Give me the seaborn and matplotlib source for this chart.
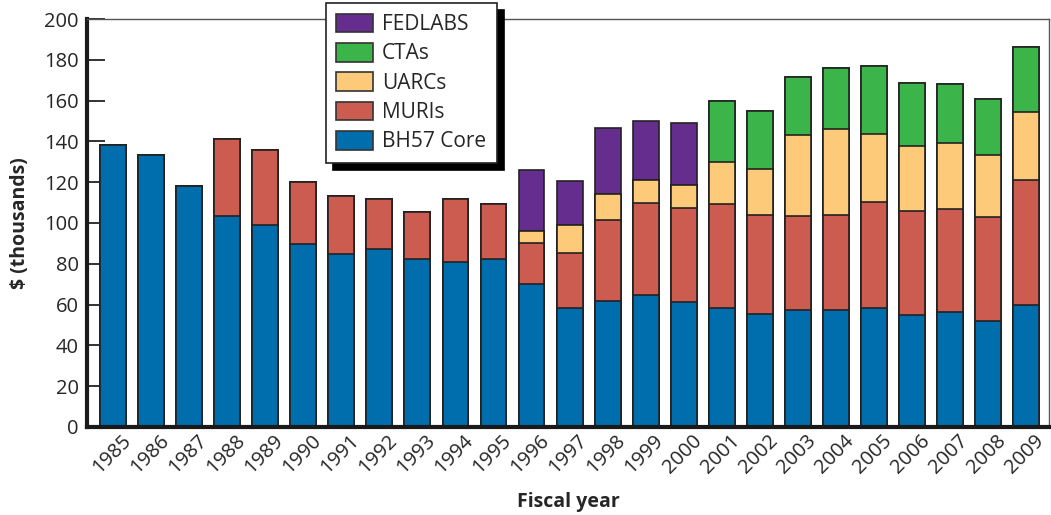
import numpy as np
import pandas as pd
import matplotlib.pyplot as plt
import seaborn as sns
from matplotlib.patches import Patch
from matplotlib.transforms import ScaledTranslation

sns.set_theme(style="ticks")
plt.rcParams['font.family'] = ['Open Sans', 'DejaVu Sans']

years = [str(y) for y in range(1985, 2010)]
bh57_core = [138, 133.5, 118, 103.3, 99, 89.8, 84.7, 87.3, 82.3, 80.8, 82.3, 70.1, 58.5,
             61.9, 64.9, 61.2, 58.1, 55.2, 57.1, 57.5, 58.1, 55, 56.5, 51.7, 59.6]
muris = [0, 0, 0, 38.1, 36.8, 30.4, 28.3, 24.4, 23.3, 31.2, 27.2, 20.2, 26.6,
         39.4, 44.8, 46.2, 51.4, 48.7, 46.3, 46.3, 52.1, 50.9, 50.4, 51.3, 61.7]
uarcs = [0, 0, 0, 0, 0, 0, 0, 0, 0, 0, 0, 5.9, 13.8,
         12.8, 11.3, 11.3, 20.4, 22.5, 39.6, 42.5, 33.3, 32, 32.4, 30.2, 33.2]
ctas = [0, 0, 0, 0, 0, 0, 0, 0, 0, 0, 0, 0, 0,
        0, 0, 0, 29.9, 28.3, 28.8, 29.6, 33.5, 30.6, 29, 27.4, 31.9]
fedlabs = [0, 0, 0, 0, 0, 0, 0, 0, 0, 0, 0, 29.6, 21.9,
           32.4, 28.8, 30.4, 0, 0, 0, 0, 0, 0, 0, 0, 0]

df = pd.DataFrame({"year": years, "BH57 Core": bh57_core, "MURIs": muris,
                   "UARCs": uarcs, "CTAs": ctas, "FEDLABS": fedlabs})

# stack bottom -> top, then draw cumulative totals from the top down
stack = ["BH57 Core", "MURIs", "UARCs", "CTAs", "FEDLABS"]
colors = {"BH57 Core": "#006DAD", "MURIs": "#CD5C50", "UARCs": "#FDCA7A",
          "CTAs": "#3BB44A", "FEDLABS": "#652D8E"}
cum = df[stack].cumsum(axis=1)

fig = plt.figure(figsize=(10.51, 5.15), dpi=100)
ax = fig.add_axes([0.083, 0.171, 0.915, 0.792])

for name in reversed(stack):
    sns.barplot(x=df["year"], y=cum[name], color=colors[name], width=0.68,
                edgecolor="#222222", linewidth=1.2, saturation=1, ax=ax)

ax.set_ylim(0, 200)
ax.set_xlim(-0.68, 24.6)
ax.set_yticks(np.arange(0, 201, 20))
ax.tick_params(axis="y", direction="in", length=13, width=1.3, labelsize=14.5, pad=6, color="#222222")
ax.tick_params(axis="x", length=0, labelsize=14.5, pad=3)
shift = ScaledTranslation(8 / 100, 0, fig.dpi_scale_trans)
for lab in ax.get_xticklabels():
    lab.set_rotation(45)
    lab.set_ha("right")
    lab.set_rotation_mode("anchor")
    lab.set_transform(lab.get_transform() + shift)

ax.set_xlabel("Fiscal year", fontsize=14, fontweight="bold", labelpad=10)
ax.set_ylabel("$ (thousands)", fontsize=14, fontweight="bold", labelpad=10)

for s in ["left", "bottom"]:
    ax.spines[s].set_linewidth(3)
    ax.spines[s].set_color("#1a1a1a")
for s in ["top", "right"]:
    ax.spines[s].set_visible(True)
    ax.spines[s].set_linewidth(1)
    ax.spines[s].set_color("#555555")

handles = [Patch(facecolor=colors[n], edgecolor="#333333", linewidth=1.2) for n in reversed(stack)]
leg = fig.legend(handles, list(reversed(stack)), loc="upper left",
                 bbox_to_anchor=(0.310, 0.994), borderaxespad=0, fontsize=15,
                 frameon=True, fancybox=False, handlelength=1.75, handleheight=1.0,
                 borderpad=0.5, labelspacing=0.38, handletextpad=0.45,
                 shadow={"color": "black", "alpha": 1, "ox": 5, "oy": -5})
leg.get_frame().set_edgecolor("#222222")
leg.get_frame().set_linewidth(1.2)
leg.get_frame().set_alpha(1)

fig.savefig("out.png", dpi=100)
